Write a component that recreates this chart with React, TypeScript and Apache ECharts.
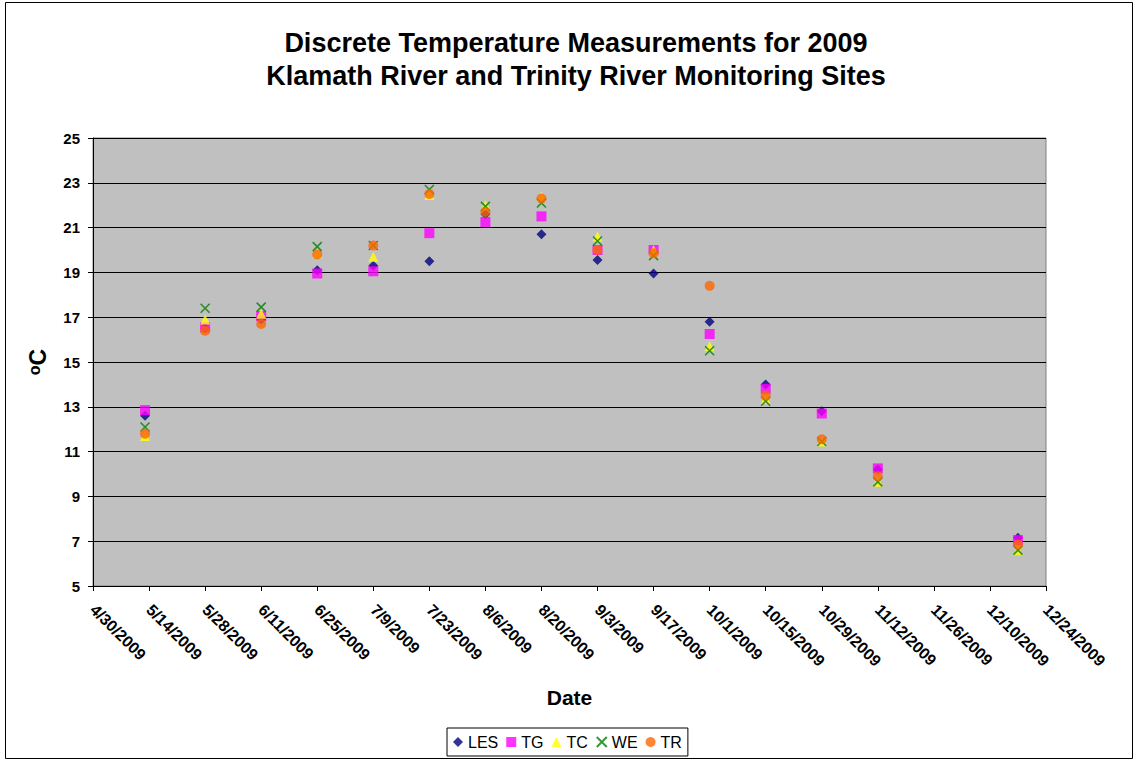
import React, { useEffect, useRef } from "react";
import * as echarts from "echarts";

const dates = [
  "2009-05-13", "2009-05-28", "2009-06-11", "2009-06-25", "2009-07-09",
  "2009-07-23", "2009-08-06", "2009-08-20", "2009-09-03", "2009-09-17",
  "2009-10-01", "2009-10-15", "2009-10-29", "2009-11-12", "2009-12-17",
];
const LES = [12.6, 16.5, 16.9, 19.1, 19.3, 19.5, 21.6, 20.7, 19.55, 18.95, 16.8, 14.0, 12.8, 10.2, 7.15];
const TG = [12.85, 16.55, 17.05, 18.95, 19.05, 20.75, 21.25, 21.5, 20.0, 20.0, 16.25, 13.8, 12.7, 10.25, 7.05];
const TC = [11.7, 16.9, 17.15, 19.85, 19.7, 22.45, 22.0, 22.4, 20.6, 20.0, 15.7, 13.35, 11.45, 9.65, 6.6];
const WE = [12.1, 17.4, 17.45, 20.15, 20.2, 22.7, 21.95, 22.1, 20.4, 19.75, 15.5, 13.25, 11.45, 9.65, 6.6];
const TR = [11.8, 16.4, 16.7, 19.8, 20.2, 22.5, 21.7, 22.3, 20.0, 19.85, 18.4, 13.5, 11.55, 9.9, 6.85];

const axisStart = "2009-04-30";
const axisEnd = "2009-12-24";
const tickDays = 14;
const yMin = 5;
const yMax = 25;
const yStep = 2;

const DAY = 86400000;
const toUTC = (s: string) => {
  const [y, m, d] = s.split("-").map(Number);
  return Date.UTC(y, m - 1, d);
};
const base = toUTC(axisStart);
const dayOffset = (s: string) => Math.round((toUTC(s) - base) / DAY);
const fmt = (v: number) => {
  const dt = new Date(base + v * DAY);
  return `${dt.getUTCMonth() + 1}/${dt.getUTCDate()}/${dt.getUTCFullYear()}`;
};

const FONT = "'Liberation Sans', Arial, sans-serif";
const X_SYMBOL = "path://M0,0L10,10M10,0L0,10";

export default function App() {
  const ref = useRef<HTMLDivElement>(null);
  useEffect(() => {
    document.body.style.margin = "0";
    if (!ref.current) return;
    const chart = echarts.init(ref.current, undefined, { renderer: "svg" });
    const mk = (vals: number[]) => dates.map((d, i) => [dayOffset(d), vals[i]]);
    const series: any[] = [
      { name: "LES", symbol: "diamond", symbolSize: 10, itemStyle: { color: "#000080" }, data: mk(LES) },
      { name: "TG", symbol: "rect", symbolSize: 10, itemStyle: { color: "#FF00FF" }, data: mk(TG) },
      { name: "TC", symbol: "triangle", symbolSize: 10, itemStyle: { color: "#FFFF00" }, data: mk(TC) },
      {
        name: "WE", symbol: X_SYMBOL, symbolSize: 9,
        itemStyle: { color: "#008000", borderColor: "#008000", borderWidth: 1.6 },
        data: mk(WE),
      },
      { name: "TR", symbol: "circle", symbolSize: 10, itemStyle: { color: "#FF6600" }, data: mk(TR) },
    ].map((s) => ({ ...s, type: "scatter" }));

    chart.setOption({
      animation: false,
      backgroundColor: "#FFFFFF",
      textStyle: { fontFamily: FONT },
      title: {
        text: "Discrete Temperature Measurements for 2009\nKlamath River and Trinity River Monitoring Sites",
        left: 571,
        top: 21,
        textAlign: "center",
        textStyle: { fontSize: 27, fontWeight: "bold", color: "#000", lineHeight: 33, fontFamily: FONT },
      },
      graphic: [
        {
          type: "rect",
          shape: { x: 5.5, y: 2.5, width: 1127, height: 756 },
          style: { fill: "none", stroke: "#000", lineWidth: 1 },
          silent: true,
        },
      ],
      legend: {
        top: 728,
        left: 447,
        orient: "horizontal",
        borderColor: "#000",
        borderWidth: 1,
        padding: [6, 6, 6, 6],
        itemGap: 8,
        itemWidth: 10,
        itemHeight: 10,
        textStyle: { fontSize: 16, color: "#000", fontFamily: FONT },
        data: ["LES", "TG", "TC", "WE", "TR"],
      },
      grid: {
        left: 93,
        top: 138,
        width: 953,
        height: 448,
        show: true,
        backgroundColor: "#C0C0C0",
        borderColor: "#808080",
        borderWidth: 1,
      },
      xAxis: {
        type: "value",
        min: 0,
        max: dayOffset(axisEnd),
        interval: tickDays,
        name: "Date",
        nameLocation: "middle",
        nameGap: 101,
        nameTextStyle: { fontSize: 21, fontWeight: "bold", color: "#000", fontFamily: FONT },
        axisLine: { show: true, lineStyle: { color: "#000", width: 1 } },
        axisTick: { show: true, length: 5, lineStyle: { color: "#000" } },
        splitLine: { show: false },
        axisLabel: {
          rotate: -45,
          margin: 21,
          fontSize: 16,
          fontWeight: "bold",
          color: "#000",
          fontFamily: FONT,
          formatter: (v: number) => fmt(v),
          showMinLabel: true,
          showMaxLabel: true,
        },
      },
      yAxis: {
        type: "value",
        min: yMin,
        max: yMax,
        interval: yStep,
        name: "{sup|o}{c|C}",
        nameLocation: "middle",
        nameGap: 44,
        nameRotate: 90,
        nameTextStyle: {
          fontFamily: FONT,
          rich: {
            sup: { fontSize: 16, fontWeight: "bold", color: "#000", verticalAlign: "top", fontFamily: FONT, padding: [0, 0, 6, 0] },
            c: { fontSize: 23, fontWeight: "bold", color: "#000", fontFamily: FONT },
          },
        },
        axisLine: { show: true, lineStyle: { color: "#000", width: 1 } },
        axisTick: { show: true, length: 5, lineStyle: { color: "#000" } },
        splitLine: { show: true, lineStyle: { color: "#000", width: 1 } },
        axisLabel: { margin: 13, fontSize: 15, fontWeight: "bold", color: "#000", fontFamily: FONT },
      },
      series,
    });
    return () => chart.dispose();
  }, []);
  return <div ref={ref} style={{ width: 1135, height: 761 }} />;
}
